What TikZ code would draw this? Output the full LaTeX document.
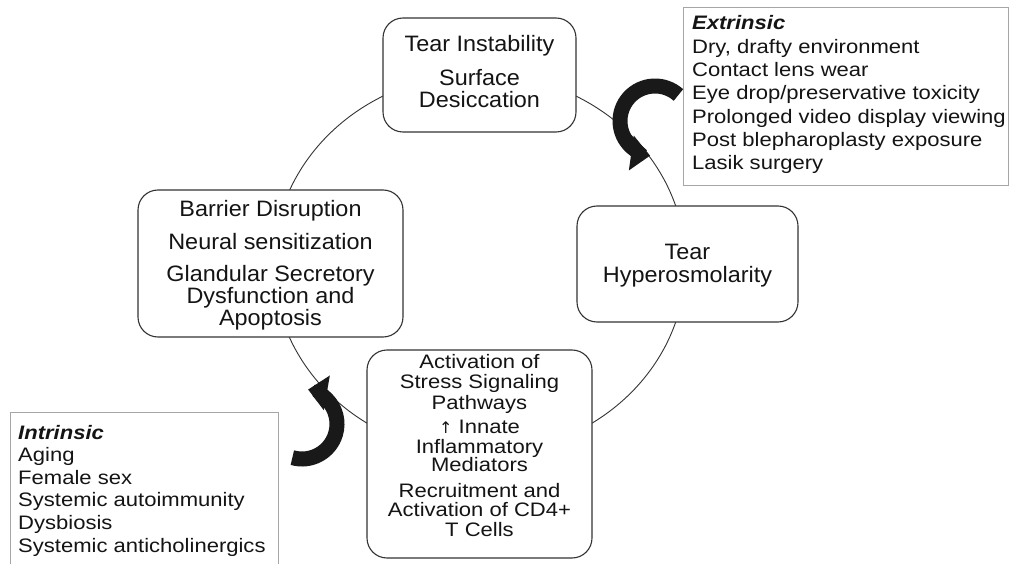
\documentclass[tikz,border=0pt]{standalone}
\usepackage{fontspec}
\setmainfont[FakeStretch=1.13]{Liberation Sans}
\newfontfamily\boxfont[FakeStretch=1.05]{Liberation Sans}
\newfontfamily\arrowfont{DejaVu Sans}
\usetikzlibrary{arrows.meta}
\begin{document}
\begin{tikzpicture}[x=1pt,y=-1pt,
  box/.style={draw=black!80, line width=1.1pt, rounded corners=20pt, fill=white, inner sep=0pt},
  bt/.style={anchor=base, inner sep=0pt, text=black!92, font=\boxfont\fontsize{22.3}{22}\selectfont},
  st/.style={anchor=base, inner sep=0pt, text=black!92, font=\fontsize{19.5}{20}\selectfont},
  lt/.style={anchor=base west, inner sep=0pt, text=black!92, font=\fontsize{19.5}{20}\selectfont},
  listbox/.style={draw=black!35, line width=1pt, inner sep=0pt},
  bigarrow/.style={line width=15pt, draw=black!90, -{Triangle[length=19pt,width=34pt]}}]
\fill[white] (0,0) rectangle (1010,564);
\useasboundingbox (0,0) rectangle (1010,564);
% cycle
\draw[line width=0.9pt, black!80] (479.5,264) ellipse[x radius=206, y radius=190];
% boxes
\node[box, minimum width=193pt, minimum height=114pt] (top) at (479.5,75) {};
\node[box, minimum width=265pt, minimum height=147pt] (left) at (270.5,263.5) {};
\node[box, minimum width=221pt, minimum height=116pt] (right) at (687.5,264) {};
\node[box, minimum width=225pt, minimum height=208pt] (bottom) at (479.5,454) {};
% top text
\node[bt] (t1) at (479.5,52) {Tear Instability};
\node[bt] (t2) at (479.5,86) {Surface};
\node[bt] (t3) at (479.5,108) {Desiccation};
% right text
\node[bt] (r1) at (687.5,260) {Tear};
\node[bt] (r2) at (687.5,283) {Hyperosmolarity};
% left text
\node[bt] (l1) at (270.5,217) {Barrier Disruption};
\node[bt] (l2) at (270.5,250) {Neural sensitization};
\node[bt] (l3) at (270.5,282) {Glandular Secretory};
\node[bt] (l4) at (270.5,304) {Dysfunction and};
\node[bt] (l5) at (270.5,326) {Apoptosis};
% bottom text
\node[st] (b1) at (479.5,368) {Activation of};
\node[st] (b2) at (479.5,388) {Stress Signaling};
\node[st] (b3) at (479.5,409) {Pathways};
\node[st] (b4) at (479.5,433) {{\arrowfont\fontsize{16}{16}\selectfont ↑} Innate};
\node[st] (b5) at (479.5,453) {Inflammatory};
\node[st] (b6) at (479.5,471) {Mediators};
\node[st] (b7) at (479.5,497) {Recruitment and};
\node[st] (b8) at (479.5,516) {Activation of CD4+};
\node[st] (b9) at (479.5,536) {T Cells};
% extrinsic list
\node[listbox, anchor=north west, minimum width=325pt, minimum height=178pt] (ext) at (683,7) {};
\node[lt] (e0) at (692,30) {\textbf{\textit{Extrinsic}}};
\node[lt] (e1) at (692,53.3) {Dry, drafty environment};
\node[lt] (e2) at (692,76.6) {Contact lens wear};
\node[lt] (e3) at (692,99.9) {Eye drop/preservative toxicity};
\node[lt] (e4) at (692,123.2) {Prolonged video display viewing};
\node[lt] (e5) at (692,146.5) {Post blepharoplasty exposure};
\node[lt] (e6) at (692,169.8) {Lasik surgery};
% intrinsic list
\draw[draw=black!35, line width=1pt] (10,566) -- (10,412) -- (278,412) -- (278,566);
\node[lt] (i0) at (18,439) {\textbf{\textit{Intrinsic}}};
\node[lt] (i1) at (18,461.6) {Aging};
\node[lt] (i2) at (18,484.2) {Female sex};
\node[lt] (i3) at (18,506.8) {Systemic autoimmunity};
\node[lt] (i4) at (18,529.4) {Dysbiosis};
\node[lt] (i5) at (18,552) {Systemic anticholinergics};
% curved arrows
\draw[bigarrow] ([shift={(-48:35)}]655,121) arc[start angle=-48, end angle=-262, radius=35];
\draw[bigarrow] ([shift={(106:35)}]302,424) arc[start angle=106, end angle=-80, radius=35];
\end{tikzpicture}
\end{document}
